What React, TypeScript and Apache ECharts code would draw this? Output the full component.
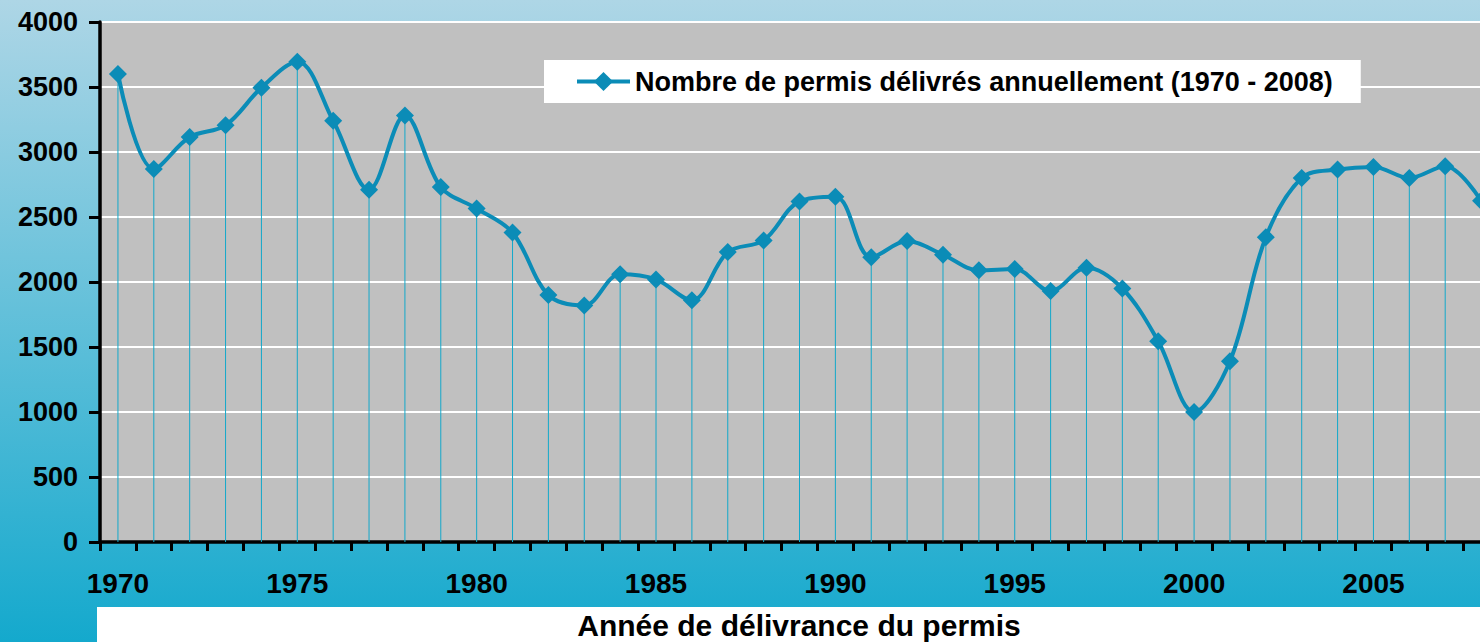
import React, { useEffect, useRef } from "react";
import * as echarts from "echarts";

const years: string[] = [
  "1970","1971","1972","1973","1974","1975","1976","1977","1978","1979",
  "1980","1981","1982","1983","1984","1985","1986","1987","1988","1989",
  "1990","1991","1992","1993","1994","1995","1996","1997","1998","1999",
  "2000","2001","2002","2003","2004","2005","2006","2007","2008",
];
const permits: number[] = [
  3600, 2870, 3115, 3205, 3495, 3695, 3240, 2710, 3280, 2730,
  2565, 2380, 1900, 1820, 2060, 2020, 1860, 2230, 2320, 2620,
  2655, 2190, 2315, 2210, 2090, 2100, 1930, 2110, 1950, 1545,
  1000, 1390, 2345, 2800, 2865, 2885, 2800, 2890, 2625,
];
const seriesName = "Nombre de permis délivrés annuellement (1970 - 2008)";
const xTitle = "Année de délivrance du permis";

export default function App() {
  const ref = useRef<HTMLDivElement>(null);
  useEffect(() => {
    document.body.style.margin = "0";
    document.body.style.overflow = "hidden";
    const chart = echarts.init(ref.current!, undefined, { renderer: "svg" });
    const font = "Arial, 'Liberation Sans', sans-serif";
    chart.setOption({
      animation: false,
      backgroundColor: new echarts.graphic.LinearGradient(0, 0, 0, 1, [
        { offset: 0, color: "#aed6e6" },
        { offset: 1, color: "#14a9cd" },
      ]),
      textStyle: { fontFamily: font },
      grid: {
        left: 100,
        right: 0,
        top: 22,
        bottom: 100,
        show: true,
        backgroundColor: "#c0c0c0",
        borderWidth: 0,
      },
      legend: {
        data: [seriesName],
        left: 544,
        top: 60,
        padding: [8, 28, 8, 31],
        backgroundColor: "#ffffff",
        itemWidth: 53,
        itemHeight: 24,
        itemGap: 6,
        lineStyle: { width: 4 },
        textStyle: { fontFamily: font, fontWeight: "bold", fontSize: 27, color: "#000" },
      },
      xAxis: {
        type: "category",
        data: years,
        boundaryGap: true,
        axisLine: { lineStyle: { color: "#000", width: 3.5 } },
        axisTick: { show: true, interval: 0, length: 9, lineStyle: { color: "#000", width: 3 } },
        axisLabel: {
          interval: 4,
          margin: 27,
          fontFamily: font,
          fontWeight: "bold",
          fontSize: 28,
          color: "#000",
        },
        splitLine: { show: false },
      },
      yAxis: {
        type: "value",
        min: 0,
        max: 4000,
        interval: 500,
        axisLine: { show: true, lineStyle: { color: "#000", width: 3.5 } },
        axisTick: { show: true, length: 11, lineStyle: { color: "#000", width: 3 } },
        axisLabel: {
          margin: 22,
          fontFamily: font,
          fontWeight: "bold",
          fontSize: 27,
          color: "#000",
          formatter: (v: number) => String(v),
        },
        splitLine: { show: true, lineStyle: { color: "#ffffff", width: 2 } },
      },
      series: [
        {
          name: "drop",
          type: "bar",
          data: permits,
          barWidth: 1,
          silent: true,
          itemStyle: { color: "#12a8ca" },
          z: 2,
        },
        {
          name: seriesName,
          type: "line",
          data: permits,
          smooth: 0.35,
          symbol: "diamond",
          symbolSize: 18,
          lineStyle: { color: "#0b8cb7", width: 4 },
          itemStyle: { color: "#0b8cb7" },
          z: 3,
        },
      ],
      graphic: [
        {
          type: "rect",
          shape: { x: 97, y: 607, width: 1410, height: 40 },
          style: { fill: "#ffffff" },
          z: 10,
        },
        {
          type: "text",
          x: 799,
          y: 625,
          style: {
            text: xTitle,
            fontFamily: font,
            fontWeight: "bold",
            fontSize: 30,
            fill: "#000",
            align: "center",
            verticalAlign: "middle",
          },
          z: 11,
        },
      ],
    });
    return () => chart.dispose();
  }, []);
  return (
    <div style={{ width: 1480, height: 642, overflow: "hidden" }}>
      <div ref={ref} style={{ width: 1499, height: 642 }} />
    </div>
  );
}
